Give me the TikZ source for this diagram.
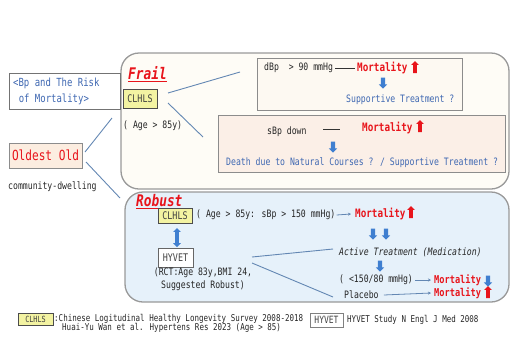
\documentclass[tikz,border=0pt]{standalone}
\usepackage{fontspec}
\setmainfont[FakeStretch=0.8, ItalicFont={DejaVu Sans Mono Oblique}, BoldFont={DejaVu Sans Mono Bold}, BoldItalicFont={DejaVu Sans Mono Bold Oblique}]{DejaVu Sans Mono}
\usetikzlibrary{shapes.arrows,arrows.meta}
\definecolor{mred}{HTML}{E8141B}
\definecolor{tblue}{HTML}{3F68B2}
\definecolor{ablue}{HTML}{3F7FD0}
\definecolor{lblue}{HTML}{6387B3}
\definecolor{frailfill}{HTML}{FEFCF6}
\definecolor{upfill}{HTML}{FDF9F2}
\definecolor{lowfill}{HTML}{FBEFE7}
\definecolor{robfill}{HTML}{E6F1FA}
\definecolor{oldfill}{HTML}{FCEDE0}
\definecolor{yfill}{HTML}{F3F3A2}
\tikzset{
  panel/.style={draw=black!40, line width=1.3pt, rounded corners=18pt, inner sep=0pt},
  ibox/.style={draw=black!45, line width=0.8pt, inner sep=0pt},
  ybox/.style={draw=black!70, line width=1pt, fill=yfill, inner sep=0pt, text=black!75, font=\fontsize{10.5}{12}\selectfont},
  hbox/.style={draw=black!60, line width=0.9pt, fill=white, inner sep=0pt, text=black!75, font=\fontsize{10.5}{12}\selectfont},
  txt/.style={inner sep=0pt, text=black!85, font=\fontsize{10.2}{12}\selectfont},
  btxt/.style={inner sep=0pt, text=tblue, font=\fontsize{10.2}{12}\selectfont},
  foot/.style={inner sep=0pt, text=black!85, font=\fontsize{9.4}{11}\selectfont},
  mort/.style={inner sep=0pt, text=mred, font=\bfseries\fontsize{11.6}{13}\selectfont},
  smort/.style={mort, font=\bfseries\fontsize{10.8}{13}\selectfont},
  ttl/.style={inner sep=0pt, text=mred, font=\bfseries\itshape\fontsize{16}{18}\selectfont},
  uparr/.style={single arrow, draw=none, fill=mred, rotate=90, inner sep=1.6pt, minimum height=12pt, minimum width=7pt, single arrow head extend=2pt},
  dnarr/.style={single arrow, draw=none, fill=ablue, rotate=-90, inner sep=2pt, minimum height=11pt, minimum width=8pt, single arrow head extend=2pt},
  dbarr/.style={double arrow, draw=none, fill=ablue, rotate=90, inner sep=1.6pt, minimum height=19pt, minimum width=7pt, double arrow head extend=2pt},
  conn/.style={draw=lblue, line width=0.9pt},
  sarr/.style={draw=lblue, line width=0.8pt, -{Stealth[length=3pt,width=3pt]}},
}
\begin{document}
\begin{tikzpicture}[x=1pt,y=-1pt]
\useasboundingbox (0,0) rectangle (512,338);
% panels
\node[panel, fill=frailfill, minimum width=388pt, minimum height=136pt] (frail) at (315,121) {};
\node[panel, fill=robfill, minimum width=384pt, minimum height=110pt] (robust) at (317,247) {};
% left side
\node[ibox, draw=black!55, fill=white, minimum width=111pt, minimum height=36pt] (bpbox) at (64.5,91) {};
\node[btxt, font=\fontsize{11.2}{16}\selectfont, align=left, anchor=west] (bptxt) at (13,91) {<Bp and The Risk\\\hspace*{0.5em}of Mortality>};
\node[ibox, fill=oldfill, minimum width=73pt, minimum height=25pt, text=mred, font=\fontsize{13.9}{15}\selectfont] (old) at (45.5,155.5) {Oldest Old};
\node[txt, anchor=west] (comm) at (8,187) {community-dwelling};
\coordinate (o1) at (85,152);
\coordinate (o1e) at (112,118);
\coordinate (o2) at (86,162);
\coordinate (o2e) at (120,198);
\draw[conn] (o1) -- (o1e);
\draw[conn] (o2) -- (o2e);
% frail
\node[ttl, anchor=west] (frailt) at (128,74) {\underline{Frail}};
\node[ybox, minimum width=34pt, minimum height=19pt] (fcl) at (140,98.5) {CLHLS};
\node[txt, anchor=west] (fage) at (123,126) {( Age > 85y)};
\coordinate (c1) at (168,93);
\coordinate (c1e) at (240,72);
\coordinate (c2) at (168,103);
\coordinate (c2e) at (203,137);
\draw[conn] (c1) -- (c1e);
\draw[conn] (c2) -- (c2e);
\node[ibox, fill=upfill, minimum width=205pt, minimum height=52pt] (up) at (359.5,84) {};
\node[txt, anchor=west] (dbp) at (264,68) {dBp\ \ > 90 mmHg};
\node[mort, anchor=west] (m1) at (357,68) {Mortality};
\draw[draw=black!80, line width=0.6pt] ([xshift=2pt]dbp.east) -- ([xshift=-2pt]m1.west);
\node[uparr] (u1) at (415,68) {};
\node[dnarr] (a1) at (383,82) {};
\node[btxt, anchor=west] (sup1) at (346,100) {Supportive Treatment ?};
\node[ibox, fill=lowfill, minimum width=287pt, minimum height=57pt] (low) at (361.5,143.5) {};
\node[txt, anchor=west] (sbp) at (267,132) {sBp down};
\coordinate (s1) at (323,129);
\coordinate (s1e) at (340,129);
\draw[draw=black!80, line width=0.6pt] (s1) -- (s1e);
\node[mort, anchor=west] (m2) at (362,128) {Mortality};
\node[uparr] (u2) at (420,127) {};
\node[dnarr] (a2) at (333,146) {};
\node[btxt, anchor=west] (death) at (226,163) {Death due to Natural Courses ? / Supportive Treatment ?};
% robust
\node[ttl, anchor=west] (robt) at (136,202) {\underline{Robust}};
\node[ybox, minimum width=34pt, minimum height=15pt] (rcl) at (175,215.5) {CLHLS};
\node[hbox, minimum width=35pt, minimum height=19pt] (rhy) at (175.5,257.5) {HYVET};
\node[dbarr] (dba) at (177,237.5) {};
\node[txt, align=center] (rct) at (203,279) {(RCT:Age 83y,BMI 24,\\[1pt]Suggested Robust)};
\node[txt, anchor=west] (rage) at (196,215) {( Age > 85y: sBp > 150 mmHg)};
\node[mort, anchor=west] (m3) at (355,214) {Mortality};
\draw[sarr] ([xshift=1pt]rage.east) -- ([xshift=-4pt]m3.west);
\node[uparr] (u3) at (411,213) {};
\node[dnarr] (a3) at (373,233) {};
\node[dnarr] (a4) at (386,233) {};
\node[txt, anchor=west, font=\itshape\fontsize{10.2}{12}\selectfont] (act) at (339,252) {Active Treatment (Medication)};
\node[dnarr] (a5) at (380,265) {};
\node[txt, anchor=west] (lt) at (339,280) {( <150/80 mmHg)};
\node[smort, anchor=west] (m4) at (434,280) {Mortality};
\node[dnarr] (a6) at (488,280) {};
\draw[sarr] ([xshift=2pt]lt.east) -- ([xshift=-3pt]m4.west);
\node[txt, anchor=west] (plc) at (344,295) {Placebo};
\node[smort, anchor=west] (m5) at (434,293) {Mortality};
\node[uparr] (u5) at (488,293) {};
\draw[sarr] ([xshift=5pt]plc.east) -- ([xshift=-3pt]m5.west);
\coordinate (h1) at (252,257);
\coordinate (h1e) at (333,249);
\coordinate (h2) at (252,263);
\coordinate (h2e) at (333,297);
\draw[conn] (h1) -- (h1e);
\draw[conn] (h2) -- (h2e);
% footnote
\node[ybox, minimum width=35pt, minimum height=12pt, font=\fontsize{8.5}{10}\selectfont] (fcl2) at (35.5,319.5) {CLHLS};
\node[foot, anchor=west] (f1) at (54,319) {:Chinese Logitudinal Healthy Longevity Survey 2008-2018};
\node[foot, anchor=west] (f2) at (62,328) {Huai-Yu Wan et al. Hypertens Res 2023 (Age > 85)};
\node[hbox, draw=black!50, minimum width=33pt, minimum height=14pt, font=\fontsize{10}{12}\selectfont] (fhy) at (326.5,320) {HYVET};
\node[foot, anchor=west] (f3) at (347,320) {HYVET Study N Engl J Med 2008};
\end{tikzpicture}
\end{document}
